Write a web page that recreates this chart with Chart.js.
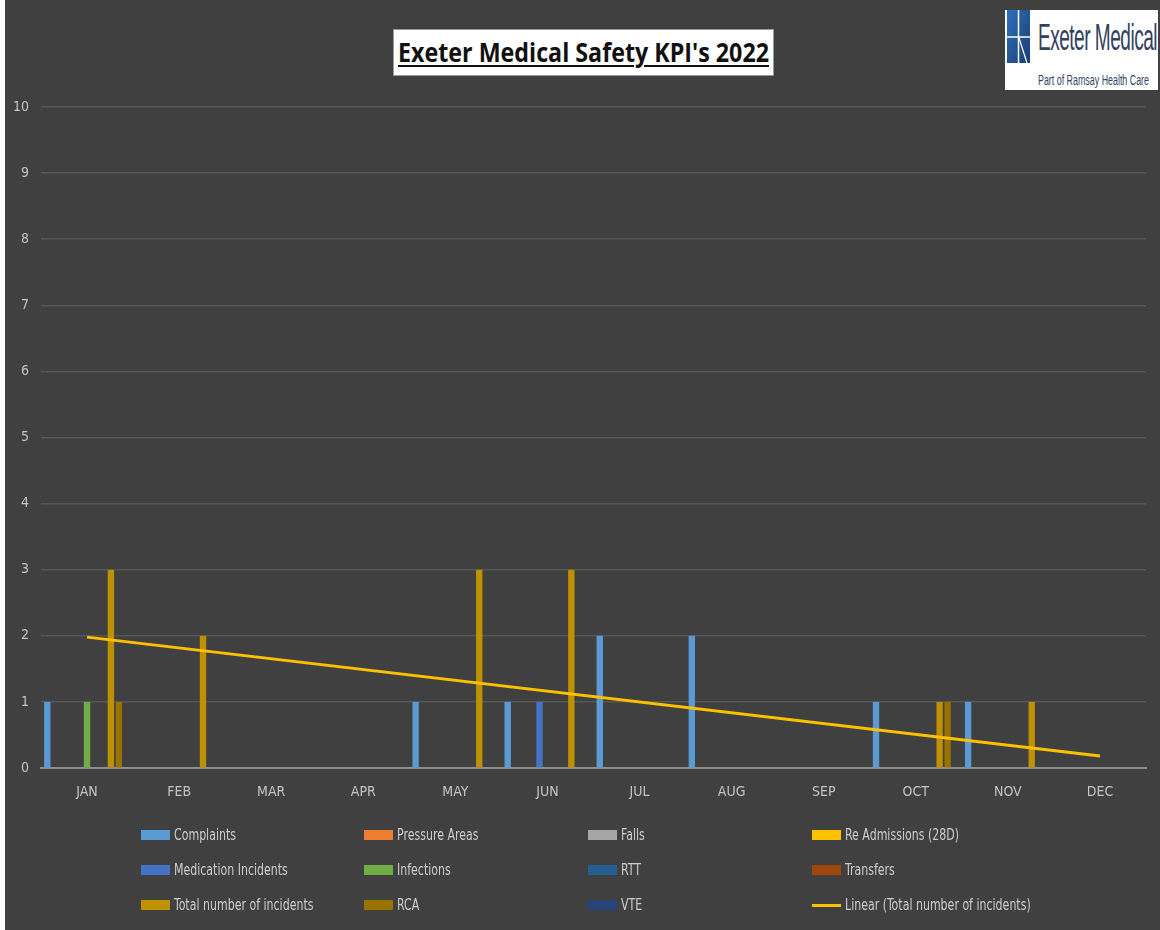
<!DOCTYPE html>
<html>
<head>
<meta charset="utf-8">
<script src="https://cdn.jsdelivr.net/npm/chart.js@4.4.1/dist/chart.umd.min.js"></script>
<style>
  html, body { margin: 0; padding: 0; background: #404040; }
  #wrap { position: relative; width: 1160px; height: 930px; overflow: hidden; background: #404040; }
  #c { position: absolute; left: 0; top: 0; }
  #leftStrip { position: absolute; left: 0; top: 0; width: 5px; height: 930px; background: #ffffff; }
  #titleBox { position: absolute; left: 393px; top: 29px; width: 381px; height: 47px; background: #ffffff; border: 1px solid #9a9a9a; box-sizing: border-box; }
  #titleText { position: absolute; left: 4px; top: 5px; white-space: nowrap; font-family: "Open Sans", "DejaVu Sans", sans-serif; font-weight: 700; font-size: 27px; line-height: 34px; color: #111; text-decoration: underline; text-decoration-thickness: 2px; text-underline-offset: 3px; transform-origin: 0 0; }
  #logo { position: absolute; left: 1005px; top: 10px; width: 153px; height: 80px; background: #ffffff; }
  #logoIcon { position: absolute; left: 2px; top: 0px; }
  #logoName { position: absolute; left: 33px; top: 8px; white-space: nowrap; font-family: "Liberation Sans", Arial, sans-serif; font-size: 37px; line-height: 40px; color: #34425f; transform-origin: 0 0; letter-spacing: -1px; }
  #logoSub { position: absolute; left: 33px; top: 62px; white-space: nowrap; font-family: "Liberation Sans", Arial, sans-serif; font-size: 14px; line-height: 16px; color: #34425f; transform-origin: 0 0; }
  .lg { position: absolute; height: 20px; white-space: nowrap; font-family: "DejaVu Sans", sans-serif; font-stretch: condensed; font-size: 15px; color: #cdcdcd; }
  .sw { position: absolute; left: 0; width: 29px; }
  .lt { position: absolute; left: 33px; top: 0; line-height: 20px; transform-origin: 0 50%; }
</style>
</head>
<body>
<div id="wrap">
  <canvas id="c" width="1160" height="930"></canvas>
  <div id="leftStrip"></div>
  <div id="titleBox"><span id="titleText">Exeter Medical Safety KPI's 2022</span></div>
  <div id="logo">
    <svg id="logoIcon" width="23" height="53" viewBox="0 0 23 53">
      <defs>
        <linearGradient id="g" x1="0" y1="0" x2="1" y2="1">
          <stop offset="0" stop-color="#2f6fb8"/>
          <stop offset="1" stop-color="#1b3f73"/>
        </linearGradient>
      </defs>
      <rect x="0" y="0" width="23" height="53" fill="url(#g)"/>
      <line x1="11.5" y1="0" x2="11.5" y2="53" stroke="#ffffff" stroke-width="1.5"/>
      <line x1="0" y1="27" x2="23" y2="27" stroke="#ffffff" stroke-width="1.5"/>
      <line x1="12" y1="28" x2="20" y2="53" stroke="#ffffff" stroke-width="1.2"/>
    </svg>
    <span id="logoName">Exeter Medical</span>
    <span id="logoSub">Part of Ramsay Health Care</span>
  </div>
  <div id="legend"></div>
</div>
<script>
// ---- Data ----
const months = ["JAN","FEB","MAR","APR","MAY","JUN","JUL","AUG","SEP","OCT","NOV","DEC"];
const complaints          = [1,0,0,0,1,1,2,2,0,1,1,0];
const pressureAreas       = [0,0,0,0,0,0,0,0,0,0,0,0];
const falls               = [0,0,0,0,0,0,0,0,0,0,0,0];
const reAdmissions28D     = [0,0,0,0,0,0,0,0,0,0,0,0];
const medicationIncidents = [0,0,0,0,0,1,0,0,0,0,0,0];
const infections          = [1,0,0,0,0,0,0,0,0,0,0,0];
const rtt                 = [0,0,0,0,0,0,0,0,0,0,0,0];
const transfers           = [0,0,0,0,0,0,0,0,0,0,0,0];
const totalIncidents      = [3,2,0,0,3,3,0,0,0,1,1,0];
const rca                 = [1,0,0,0,0,0,0,0,0,1,0,0];
const vte                 = [0,0,0,0,0,0,0,0,0,0,0,0];
// trend line endpoints (JAN and DEC)
const linearTotal         = [1.98,null,null,null,null,null,null,null,null,null,null,0.18];
const yTicks              = [0,1,2,3,4,5,6,7,8,9,10];

const barSeries = [
  ["Complaints", complaints, "#5B9BD5"],
  ["Pressure Areas", pressureAreas, "#ED7D31"],
  ["Falls", falls, "#A5A5A5"],
  ["Re Admissions (28D)", reAdmissions28D, "#FFC000"],
  ["Medication Incidents", medicationIncidents, "#4472C4"],
  ["Infections", infections, "#70AD47"],
  ["RTT", rtt, "#255E91"],
  ["Transfers", transfers, "#9E480E"],
  ["Total number of incidents", totalIncidents, "#BF9000"],
  ["RCA", rca, "#997300"],
  ["VTE", vte, "#264478"]
];

const datasets = barSeries.map(([label, data, color]) => ({
  type: "bar", label, data, backgroundColor: color, borderWidth: 0,
  barPercentage: 0.8, categoryPercentage: 0.95, order: 2
}));
datasets.push({
  type: "line", label: "Linear (Total number of incidents)", data: linearTotal,
  borderColor: "#FFC000", borderWidth: 3, pointRadius: 0, spanGaps: true, fill: false, order: 1
});

const tickFont = { family: "'DejaVu Sans', sans-serif", weight: "normal condensed", size: 14 };

new Chart(document.getElementById("c"), {
  type: "bar",
  data: { labels: months, datasets },
  options: {
    responsive: false,
    animation: false,
    devicePixelRatio: 1,
    layout: { padding: { left: 0, right: 14, top: 107, bottom: 122 } },
    plugins: { legend: { display: false }, title: { display: false }, tooltip: { enabled: false } },
    scales: {
      x: {
        grid: { display: false, drawTicks: false },
        border: { display: true, color: "#8f8f8f", width: 2 },
        ticks: { color: "#c4c4c4", font: tickFont, padding: 16, maxRotation: 0 },
        afterFit: s => { s.height = 40; }
      },
      y: {
        min: 0, max: 10,
        afterBuildTicks: s => { s.ticks = yTicks.map(v => ({ value: v })); },
        grid: { color: ctx => ctx.tick && ctx.tick.value === 0 ? "rgba(0,0,0,0)" : "#565656", lineWidth: 1.5, drawTicks: false },
        border: { display: false },
        ticks: { color: "#c4c4c4", font: tickFont, padding: 12 },
        afterFit: s => { s.width = 41; }
      }
    }
  }
});

// HTML legend built from the series list
const legendItems = barSeries.map(([label, , color]) => ({ label, color, line: false }));
legendItems.push({ label: "Linear (Total number of incidents)", color: "#FFC000", line: true });
const colX = [141, 364, 588, 812];
const rowY = [835, 870, 905];
const lg = document.getElementById("legend");
const spans = [];
legendItems.forEach((it, i) => {
  const d = document.createElement("div");
  d.className = "lg";
  d.style.left = colX[i % 4] + "px";
  d.style.top = (rowY[Math.floor(i / 4)] - 10) + "px";
  const sw = document.createElement("div");
  sw.className = "sw";
  sw.style.background = it.color;
  if (it.line) { sw.style.height = "3px"; sw.style.top = "9px"; }
  else { sw.style.height = "10px"; sw.style.top = "5px"; }
  const t = document.createElement("span");
  t.className = "lt";
  t.textContent = it.label;
  d.appendChild(sw); d.appendChild(t);
  lg.appendChild(d);
  spans.push(t);
});
// "Complaints" spans about 62px in the reference; scale legend text uniformly
const cw = spans[0].getBoundingClientRect().width;
const k = Math.min(1, 62 / cw);
spans.forEach(s => { s.style.transform = "scaleX(" + k + ")"; });

// fit overlay texts to the widths in the reference
function fitWidth(id, w) {
  const el = document.getElementById(id);
  const cw = el.getBoundingClientRect().width;
  el.style.transform = "scaleX(" + (w / cw) + ")";
}
fitWidth("titleText", 371);
fitWidth("logoName", 119);
fitWidth("logoSub", 111);
</script>
</body>
</html>
